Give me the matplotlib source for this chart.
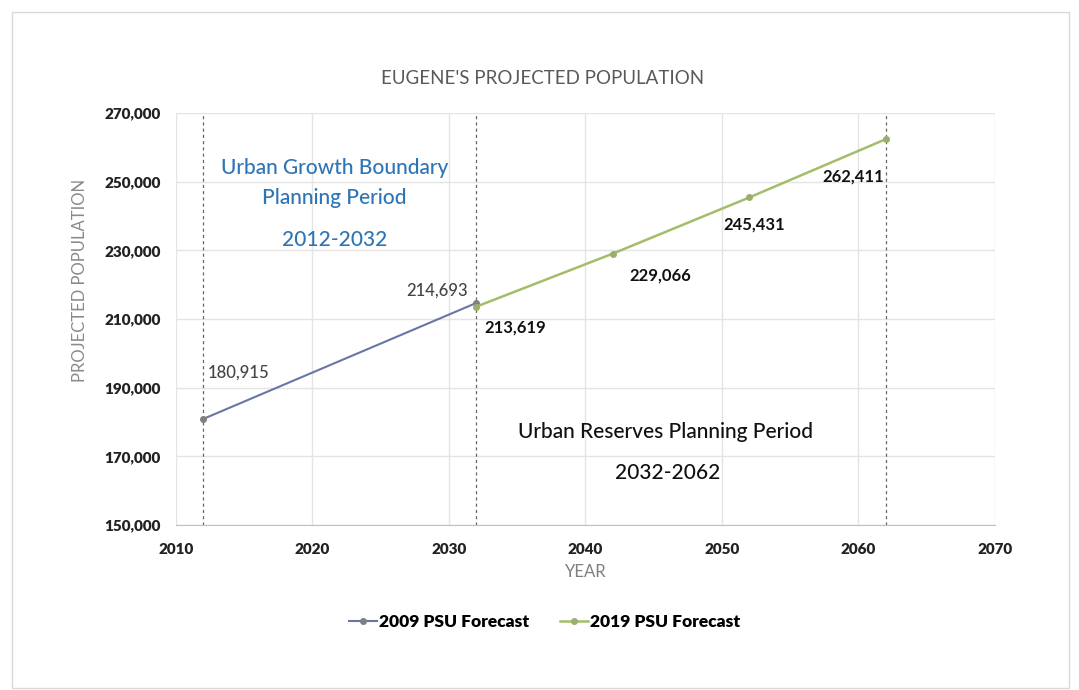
import numpy as np
import matplotlib
matplotlib.use('Agg')
from matplotlib import pyplot as plt
from matplotlib.patches import Rectangle
from matplotlib.ticker import FuncFormatter

plt.rcParams['font.family'] = ['Lato', 'DejaVu Sans']

# data
years_2009 = [2012, 2032]
pop_2009 = [180915, 214693]
years_2019 = [2032, 2042, 2052, 2062]
pop_2019 = [213619, 229066, 245431, 262411]
period_lines = [2012, 2032, 2062]

fig = plt.figure(figsize=(10.79, 6.9), dpi=100)
fig.patches.append(Rectangle((0.011, 0.003), 0.98, 0.98, transform=fig.transFigure,
                             fill=False, edgecolor='#d9d9d9', lw=1))
ax = fig.add_axes([0.163, 0.239, 0.759, 0.597])

ax.set_xlim(2010, 2070)
ax.set_ylim(150000, 270000)
ax.set_xticks(np.arange(2010, 2071, 10))
ax.set_yticks(np.arange(150000, 270001, 20000))
ax.yaxis.set_major_formatter(FuncFormatter(lambda v, p: f'{int(v):,}'))
ax.grid(True, color='#e4e4e4', lw=1)
ax.set_axisbelow(True)
for s in ['top', 'right', 'left']:
    ax.spines[s].set_visible(False)
ax.spines['bottom'].set_color('#bfbfbf')
ax.tick_params(length=0, labelsize=11, colors='#222222')
ax.tick_params(axis='x', pad=13)
ax.tick_params(axis='y', pad=11)
for lab in ax.get_xticklabels() + ax.get_yticklabels():
    lab.set_fontweight('heavy')

for x in period_lines:
    ax.axvline(x, color='#666666', ls=(0, (2.5, 2.5)), lw=0.9)

ax.plot(years_2009, pop_2009, color='#6776a6', lw=1.5, marker='o', ms=4,
        mfc='#7f7f7f', mec='#7f7f7f', label='2009 PSU Forecast', zorder=3)
ax.plot(years_2019, pop_2019, color='#a3bd6a', lw=1.8, marker='o', ms=4,
        mfc='#9aae6e', mec='#9aae6e', label='2019 PSU Forecast', zorder=3)

# data labels
lbl = dict(fontsize=12, va='center')
ax.text(2012.3, 194300, '180,915', color='#444444', ha='left', fontweight='medium', **lbl)
ax.text(2031.4, 218300, '214,693', color='#444444', ha='right', fontweight='medium', **lbl)
ax.text(2032.6, 207700, '213,619', color='#111111', fontweight='bold', ha='left', **lbl)
ax.text(2043.2, 222600, '229,066', color='#111111', fontweight='bold', ha='left', **lbl)
ax.text(2052.4, 237600, '245,431', color='#111111', fontweight='bold', ha='center', **lbl)
ax.text(2061.9, 251400, '262,411', color='#111111', fontweight='bold', ha='right', **lbl)

# period annotations
ann = dict(fontsize=15, ha='center', va='center', fontweight='medium')
ax.text(2021.6, 254000, 'Urban Growth Boundary', color='#2e75b6', **ann)
ax.text(2021.6, 245300, 'Planning Period', color='#2e75b6', **ann)
ax.text(2021.6, 233000, '2012-2032', color='#2e75b6', **ann)
ax.text(2045.9, 177000, 'Urban Reserves Planning Period', color='#111111', **ann)
ax.text(2046.0, 165200, '2032-2062', color='#111111', **ann)

fig.text(0.503, 0.886, "EUGENE'S PROJECTED POPULATION", fontsize=13.5, color='#595959',
         ha='center', va='center')
ax.set_xlabel('YEAR', fontsize=12, color='#7f7f7f', labelpad=6)
fig.text(0.074, 0.594, 'PROJECTED POPULATION', fontsize=12, color='#8a8a8a',
         rotation=90, ha='center', va='center')

ax.legend(loc='center', bbox_to_anchor=(0.45, -0.236), ncol=2, frameon=False,
          handlelength=1.6, handletextpad=0.1, columnspacing=1.8,
          prop={'weight': 'heavy', 'size': 12.5})

fig.savefig('out.png', dpi=100)
